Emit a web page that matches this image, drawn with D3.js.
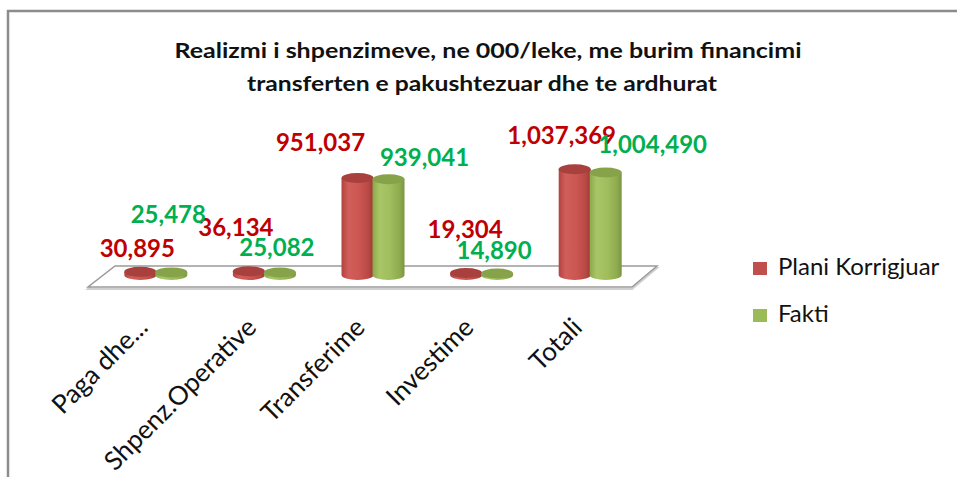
<!DOCTYPE html>
<html>
<head>
<meta charset="utf-8">
<title>Realizmi i shpenzimeve</title>
<script src="https://d3js.org/d3.v7.min.js"></script>
<style>
  body { margin: 0; background: #fff; }
  svg { display: block; font-family: Lato, "Open Sans", sans-serif; }
</style>
</head>
<body>
<div id="chart"></div>
<script>
// data
var categories = ["Paga dhe...", "Shpenz.Operative", "Transferime", "Investime", "Totali"];
var planiKorrigjuar = [30895, 36134, 951037, 19304, 1037369];
var fakti = [25478, 25082, 939041, 14890, 1004490];
var seriesNames = ["Plani Korrigjuar", "Fakti"];
var titleLines = ["Realizmi i shpenzimeve, ne 000/leke, me burim financimi",
                  "transferten e pakushtezuar dhe te ardhurat"];

// label nudges (dx, dy from bar top), like Excel placed them
var labelShiftPlan = [[-3, -15], [-13, -35], [-37, -27], [-1, -35], [-13, -25]];
var labelShiftFakt = [[-3, -49], [-3, -16], [36, -13], [-3, -14], [47, -20]];

var W = 957, H = 477;
var base = 275;

var svg = d3.select("#chart").append("svg")
    .attr("width", W).attr("height", H);

// frame lines (chart area border, cut by the screenshot)
svg.append("path")
    .attr("d", "M8," + H + " V11 H" + W)
    .attr("fill", "none").attr("stroke", "#8c8c8c").attr("stroke-width", 2.5);

// title
svg.selectAll(".title").data(titleLines).enter().append("text")
    .attr("class", "title")
    .attr("x", function (d, i) { return i === 0 ? 488 : 482; })
    .attr("y", function (d, i) { return i === 0 ? 58 : 91; })
    .attr("text-anchor", "middle")
    .attr("font-weight", "bold").attr("font-size", 21)
    .attr("textLength", function (d, i) { return i === 0 ? 627 : 470; })
    .attr("lengthAdjust", "spacingAndGlyphs")
    .attr("fill", "#111")
    .text(function (d) { return d; });

var x = d3.scaleBand().domain(categories).range([102, 645]);
var y = d3.scaleLinear().domain([0, 1000000]).range([base, base - 102]);

var x0 = x.range()[0], x1 = x.range()[1];

// floor plate
var defs = svg.append("defs");
svg.append("polygon")
    .attr("points", [[x0 - 14, base + 14], [x1 - 13, base + 14], [x1 + 12, base - 7], [x0 + 13, base - 7]].join(" "))
    .attr("fill", "none").attr("stroke", "#d0d0d0").attr("stroke-width", 2);
svg.append("polygon")
    .attr("points", [[x0 - 14, base + 12], [x1 - 13, base + 12], [x1 + 12, base - 9], [x0 + 13, base - 9]].join(" "))
    .attr("fill", "#fff").attr("stroke", "#9a9a9a").attr("stroke-width", 1.5);

function grad(id, stops) {
    var g = defs.append("linearGradient").attr("id", id)
        .attr("x1", "0%").attr("x2", "100%").attr("y1", "0%").attr("y2", "0%");
    stops.forEach(function (s) {
        g.append("stop").attr("offset", s[0]).attr("stop-color", s[1]);
    });
}
grad("gRed", [["0%", "#b3433f"], ["22%", "#d15e5a"], ["55%", "#cc5652"], ["85%", "#b84844"], ["100%", "#9b3835"]]);
grad("gGreen", [["0%", "#8ba84b"], ["22%", "#a9c667"], ["55%", "#a0be5d"], ["85%", "#8eab4f"], ["100%", "#7b9540"]]);

var series = [
    { name: seriesNames[0], values: planiKorrigjuar, off: -16, fill: "url(#gRed)", top: "#a8403d", text: "#c00000", shift: labelShiftPlan, key: "#c0504d" },
    { name: seriesNames[1], values: fakti, off: 15, fill: "url(#gGreen)", top: "#87a34a", text: "#00b050", shift: labelShiftFakt, key: "#9bbb59" }
];

var rx = 16, ry = 5;
var fmt = d3.format(",");

series.forEach(function (s) {
    var g = svg.append("g");
    s.values.forEach(function (v, i) {
        var cx = x(categories[i]) + x.bandwidth() / 2 + s.off;
        var top = y(v);
        g.append("path")
            .attr("d", "M" + (cx - rx) + "," + top + " V" + base +
                " A" + rx + "," + ry + " 0 0 0 " + (cx + rx) + "," + base +
                " V" + top + " Z")
            .attr("fill", s.fill);
        g.append("ellipse")
            .attr("cx", cx).attr("cy", top).attr("rx", rx).attr("ry", ry)
            .attr("fill", s.top);
    });
});

// data labels
series.forEach(function (s) {
    svg.selectAll(null).data(s.values).enter().append("text")
        .attr("x", function (d, i) { return x(categories[i]) + x.bandwidth() / 2 + s.off + s.shift[i][0]; })
        .attr("y", function (d, i) { return y(d) + s.shift[i][1]; })
        .attr("text-anchor", "middle")
        .attr("font-weight", "bold").attr("font-size", 24)
        .attr("fill", s.text)
        .text(function (d) { return fmt(d); });
});

// category labels
svg.selectAll(".cat").data(categories).enter().append("text")
    .attr("class", "cat")
    .attr("transform", function (d) {
        return "translate(" + (x(d) + x.bandwidth() / 2 - 7) + ",329) rotate(-45)";
    })
    .attr("text-anchor", "end")
    .attr("font-size", 26).attr("fill", "#111")
    .text(function (d) { return d; });

// legend
var leg = svg.append("g").attr("transform", "translate(753,262)");
series.forEach(function (s, i) {
    leg.append("rect").attr("x", 0).attr("y", i * 47).attr("width", 14).attr("height", 13)
        .attr("fill", s.key);
    leg.append("text").attr("x", 25).attr("y", i * 47 + 13)
        .attr("font-size", 24).attr("fill", "#111")
        .text(s.name);
});
</script>
</body>
</html>
